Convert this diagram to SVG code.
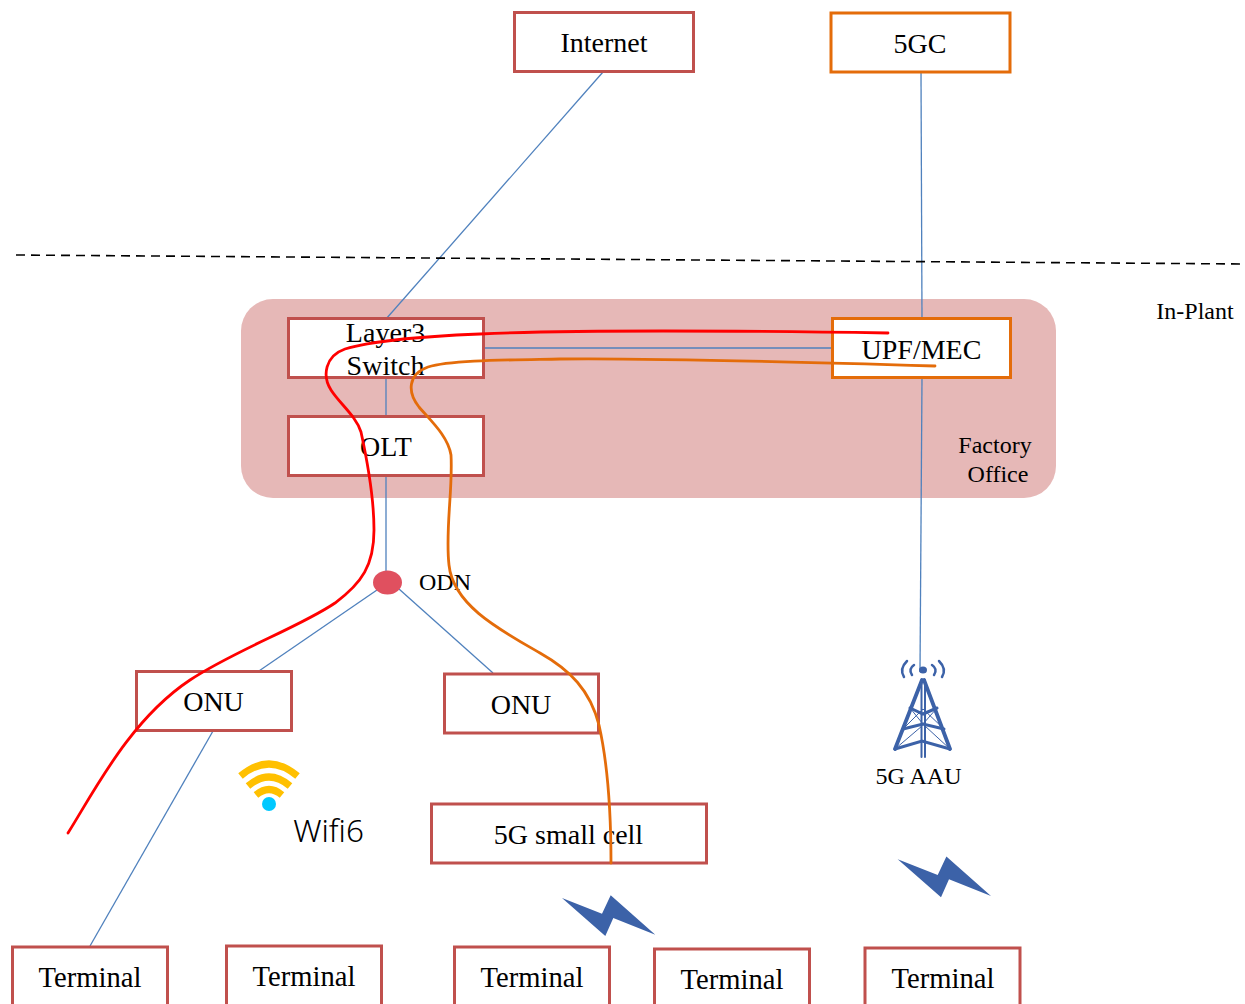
<svg xmlns="http://www.w3.org/2000/svg" width="1245" height="1004" viewBox="0 0 1245 1004">
<style>
text{font-family:"Liberation Serif","Times New Roman",serif;fill:#000;text-anchor:middle}
.t{font-size:28px}
.tm{font-size:28.600px}
.s{font-size:24px}
.b{fill:#fff;stroke:#c0504d;stroke-width:3}
.o{fill:#fff;stroke:#e46c0a;stroke-width:3}
.l{fill:none;stroke:#4f81bd;stroke-width:1.3}
.tw{fill:none;stroke:#3c62a8;stroke-linecap:round}
.bolt{fill:#3c62a8}
.wf{fill:none;stroke:#ffc000;stroke-width:7}
</style>
<defs>
<polygon id="bolt" points="0,0 40,15.700 48.700,-2.700 93.300,36.700 51.300,20 43.300,38"/>
</defs>
<rect id="plant" x="241" y="299" width="815" height="199" rx="32" fill="#e6b8b7"/>
<g id="connectors">
<path class="l" d="M603 72L386 319"/>
<path class="l" d="M921 72L922 319"/>
<path class="l" d="M484 348H832"/>
<path class="l" d="M386 378V416"/>
<path class="l" d="M386 476V571"/>
<path class="l" d="M922 378L920 672"/>
<path class="l" d="M377 590L256 673"/>
<path class="l" d="M399 589L493 673"/>
<path class="l" d="M213 731L90 946"/>
<path d="M16 255L1245 264" fill="none" stroke="#000" stroke-width="1.6" stroke-dasharray="9 6"/>
</g>
<g id="internet"><rect class="b" x="514.500" y="12.500" width="179" height="59"/><text class="t" x="604" y="52">Internet</text></g>
<g id="fivegc"><rect class="o" x="831" y="13" width="179" height="59"/><text class="t" x="920" y="53">5GC</text></g>
<g id="layer3"><rect class="b" x="288.500" y="318.500" width="195" height="59"/><text class="t" x="385.500" y="342">Layer3</text><text class="t" x="385.500" y="375">Switch</text></g>
<g id="olt"><rect class="b" x="288.500" y="416.500" width="195" height="59"/><text class="t" x="386" y="456">OLT</text></g>
<g id="upf"><rect class="o" x="832.500" y="318.500" width="178" height="59"/><text class="t" x="921.500" y="359">UPF/MEC</text></g>
<g id="inplant"><text class="s" x="1195" y="319">In-Plant</text></g>
<g id="factory"><text class="s" x="995" y="453">Factory</text><text class="s" x="998" y="482">Office</text></g>
<g id="odn"><ellipse cx="387.500" cy="582.500" rx="14.500" ry="12" fill="#e0505f"/><text class="s" x="445" y="590">ODN</text></g>
<g id="onu1"><rect class="b" x="136.500" y="671.500" width="155" height="59"/><text class="t" x="213.500" y="711">ONU</text></g>
<g id="onu2"><rect class="b" x="444.500" y="674" width="154" height="59"/><text class="t" x="521" y="714">ONU</text></g>
<g id="small"><rect class="b" x="431.500" y="804" width="275" height="59"/><text class="t" x="568.500" y="844">5G small cell</text></g>
<g id="aau">
<g class="tw">
<path d="M904 677Q899 669 907 661" stroke-width="2.500"/>
<path d="M912 675Q908 669 914 665" stroke-width="2.500"/>
<path d="M942 677Q947 669 939 661" stroke-width="2.500"/>
<path d="M934 675Q938 669 932 665" stroke-width="2.500"/>
<path d="M922 680L895 749M924 680L950 749" stroke-width="3.800"/>
<path d="M921.500 680V757M925 680V757" stroke-width="2"/>
<path d="M910 708L923 714L937 708M903 729L923 724L944 729M895 749L922 741L950 749" stroke-width="3"/>
<path d="M903 729L923 709L944 729M910 708L923 724L937 708M895 749L922 726M950 749L925 726" stroke-width="1"/>
</g>
<ellipse cx="923" cy="670" rx="4" ry="3.500" fill="#3c62a8"/>
<text class="s" x="918.500" y="784">5G AAU</text>
</g>
<g id="wifi">
<path class="wf" d="M240.500 776Q269 752 297.500 776"/>
<path class="wf" d="M248 786Q269 768 290 786"/>
<path class="wf" d="M256 795Q269 784 282 795"/>
<circle cx="269" cy="804" r="7" fill="#00c8ff"/>
<text x="328.500" y="842" style="font-family:'Noto Sans','Open Sans',sans-serif;font-size:31.500px;font-weight:300">Wifi6</text>
</g>
<use id="bolt1" href="#bolt" class="bolt" x="562" y="898"/>
<use id="bolt2" href="#bolt" class="bolt" x="897.700" y="859.300"/>
<g id="term1"><rect class="b" x="12.500" y="947" width="155" height="70"/><text class="tm" x="90" y="987">Terminal</text></g>
<g id="term2"><rect class="b" x="226.500" y="946" width="155" height="70"/><text class="tm" x="304" y="986">Terminal</text></g>
<g id="term3"><rect class="b" x="454.500" y="947" width="155" height="70"/><text class="tm" x="532" y="987">Terminal</text></g>
<g id="term4"><rect class="b" x="654.500" y="949" width="155" height="70"/><text class="tm" x="732" y="989">Terminal</text></g>
<g id="term5"><rect class="b" x="865" y="948" width="155" height="70"/><text class="tm" x="943" y="988">Terminal</text></g>
<g id="flows" fill="none" stroke-width="2.800" stroke-linecap="round">
<path stroke="#ff0000" d="M888 333C760 331 590 329 480 334C430 336 375 340 345 349C325 356 322 376 331 390C340 404 356 416 361 432C366 455 374 495 374 530C374 565 362 583 335 603C300 627 235 650 190 680C130 720 95 790 68 833"/>
<path stroke="#e46c0a" d="M935 366C800 362 640 358 560 359C510 360 450 360 428 367C408 374 407 392 419 407C430 420 448 436 451 455C453 490 445 530 449 565C453 605 500 630 540 653C570 670 590 690 599 725C608 765 611 820 611 863"/>
</g>
</svg>
